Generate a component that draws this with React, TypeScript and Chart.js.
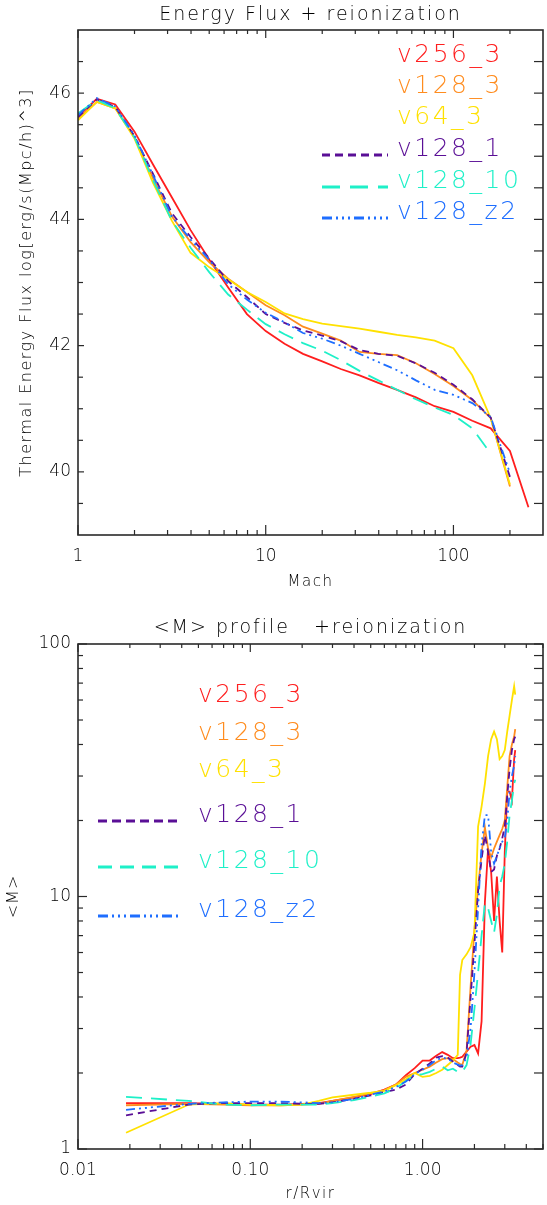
import React, { useEffect, useRef } from "react";
import { Chart, registerables } from "chart.js";

Chart.register(...registerables);

const FONT = "'DejaVu Sans', sans-serif";
const WEIGHT = "300";
const INK = "#000000";
const FRAME = "#2a2a2a";

const seriesNames = ["v256_3", "v128_3", "v64_3", "v128_1", "v128_10", "v128_z2"];
const seriesColors = ["#ff1e1e", "#ff8c1e", "#ffe100", "#5a0f96", "#1ef0c8", "#1e6eff"];
const seriesDashes = [[], [], [], [7, 5], [16, 9], [9, 4, 2, 4, 2, 4, 2, 4]];

// ---------- top chart: Energy flux vs Mach ----------
const machBins = [1, 1.26, 1.58, 2.0, 2.51, 3.16, 3.98, 5.01, 6.31, 7.94, 10, 12.6, 15.8, 20, 25.1, 31.6, 39.8, 50.1, 63.1, 79.4, 100, 126, 158, 200, 251];
const fluxV256_3 = [45.63, 45.91, 45.82, 45.39, 44.87, 44.35, 43.83, 43.36, 42.92, 42.5, 42.23, 42.03, 41.87, 41.75, 41.63, 41.53, 41.41, 41.3, 41.18, 41.04, 40.95, 40.81, 40.69, 40.33, 39.44];
const fluxV128_3 = [45.6, 45.86, 45.76, 45.3, 44.65, 44.05, 43.64, 43.32, 43.06, 42.85, 42.64, 42.48, 42.3, 42.19, 42.08, 41.9, 41.87, 41.85, 41.72, 41.55, 41.36, 41.14, 40.85, 39.77];
const fluxV64_3 = [45.57, 45.86, 45.76, 45.28, 44.58, 43.98, 43.47, 43.24, 43.05, 42.85, 42.69, 42.51, 42.42, 42.35, 42.31, 42.27, 42.22, 42.17, 42.13, 42.08, 41.96, 41.53, 40.85, 39.8];
const fluxV128_1 = [45.62, 45.9, 45.78, 45.32, 44.72, 44.1, 43.72, 43.38, 43.02, 42.77, 42.5, 42.36, 42.24, 42.16, 42.07, 41.93, 41.87, 41.84, 41.72, 41.57, 41.38, 41.15, 40.86, 39.92];
const fluxV128_10 = [45.68, 45.89, 45.76, 45.3, 44.62, 43.98, 43.55, 43.16, 42.81, 42.57, 42.34, 42.18, 42.04, 41.92, 41.77, 41.6, 41.45, 41.3, 41.15, 41.02, 40.9, 40.69, 40.29];
const fluxV128_z2 = [45.65, 45.92, 45.79, 45.33, 44.7, 44.05, 43.68, 43.36, 42.97, 42.73, 42.52, 42.37, 42.2, 42.11, 42.0, 41.87, 41.74, 41.61, 41.45, 41.3, 41.22, 41.09, 40.87, 39.98];
const fluxSeries = [fluxV256_3, fluxV128_3, fluxV64_3, fluxV128_1, fluxV128_10, fluxV128_z2];

const machTickValues = [1, 10, 100];
const machTickLabels = ["1", "10", "100"];
const machMinorTicks = [2, 3, 4, 5, 6, 7, 8, 9, 20, 30, 40, 50, 60, 70, 80, 90, 200];
const fluxTickValues = [40, 42, 44, 46];
const fluxTickLabels = ["40", "42", "44", "46"];
const fluxMinorTicks = [39.5, 40.5, 41, 41.5, 42.5, 43, 43.5, 44.5, 45, 45.5, 46.5];

// ---------- bottom chart: <M> profile ----------
const radiusBins = [0.019, 0.044, 0.07, 0.1, 0.15, 0.2, 0.25, 0.3, 0.4, 0.5, 0.6, 0.7, 0.8, 0.9, 1.0, 1.1, 1.2, 1.3, 1.4, 1.5, 1.6, 1.65, 1.7, 1.8, 1.9, 2.0, 2.1, 2.2, 2.3, 2.4, 2.5, 2.6, 2.7, 2.8, 2.9, 3.0, 3.1, 3.2, 3.3, 3.4, 3.45];
const machV256_3 = [1.52, 1.52, 1.51, 1.5, 1.5, 1.51, 1.52, 1.55, 1.6, 1.65, 1.72, 1.8, 1.96, 2.09, 2.24, 2.24, 2.34, 2.42, 2.36, 2.29, 2.29, 2.3, 2.32, 2.43, 2.54, 2.58, 2.39, 3.2, 9.5, 15.5, 12.5, 8.0, 12.0, 8.0, 6.0, 15.0, 26.0, 26.0, 24.0, 35.0, 38.0];
const machV128_3 = [1.49, 1.51, 1.5, 1.49, 1.49, 1.5, 1.51, 1.55, 1.61, 1.66, 1.71, 1.8, 1.93, 2.0, 2.06, 2.12, 2.2, 2.27, 2.29, 2.27, 2.2, 2.17, 2.15, 2.45, 4.4, 7.4, 10.9, 14.8, 18.8, 15.5, 14.3, 15.5, 16.5, 17.5, 18.5, 20.0, 27.0, 36.0, 40.0, 43.0, 46.0];
const machV64_3 = [1.16, 1.5, 1.52, 1.5, 1.49, 1.5, 1.55, 1.6, 1.64, 1.67, 1.7, 1.79, 1.89, 2.0, 1.93, 1.95, 2.0, 2.06, 2.15, 2.24, 2.36, 4.9, 5.6, 5.9, 6.3, 7.2, 18.9, 22.7, 28.0, 36.0, 42.0, 45.0, 42.0, 35.0, 36.0, 38.0, 45.0, 52.0, 60.0, 68.0, 63.0];
const machV128_1 = [1.36, 1.5, 1.52, 1.52, 1.52, 1.51, 1.51, 1.53, 1.58, 1.63, 1.68, 1.72, 1.8, 1.98, 2.08, 2.18, 2.3, 2.33, 2.3, 2.22, 2.15, 2.12, 2.12, 2.4, 4.0, 6.5, 10.5, 14.0, 17.5, 15.0, 12.5, 12.8, 14.5, 15.5, 17.0, 19.0, 25.0, 32.0, 38.0, 42.0, 43.0];
const machV128_10 = [1.61, 1.55, 1.5, 1.49, 1.5, 1.5, 1.5, 1.52, 1.56, 1.61, 1.66, 1.74, 1.86, 1.96, 1.98, 2.02, 2.08, 2.12, 2.05, 2.08, 2.02, 2.0, 2.02, 2.15, 2.6, 3.6, 5.0, 7.0, 9.4, 9.0, 8.0, 7.2, 8.5, 11.0, 12.0, 13.5, 16.5, 21.0, 24.0, 28.0, 29.0];
const machV128_z2 = [1.43, 1.51, 1.53, 1.54, 1.54, 1.53, 1.52, 1.53, 1.58, 1.64, 1.69, 1.76, 1.85, 1.98, 2.06, 2.15, 2.25, 2.3, 2.28, 2.2, 2.16, 2.14, 2.15, 2.3, 3.0, 5.0, 9.0, 16.0, 21.0, 21.0, 15.0, 13.5, 14.5, 15.5, 16.5, 17.0, 20.0, 26.0, 30.0, 33.0, 36.0];
const profileSeries = [machV256_3, machV128_3, machV64_3, machV128_1, machV128_10, machV128_z2];

const radiusTickValues = [0.01, 0.1, 1];
const radiusTickLabels = ["0.01", "0.10", "1.00"];
const radiusMinorTicks = [0.02, 0.03, 0.04, 0.05, 0.06, 0.07, 0.08, 0.09, 0.2, 0.3, 0.4, 0.5, 0.6, 0.7, 0.8, 0.9, 2, 3, 4, 5];
const profileTickValues = [1, 10, 100];
const profileTickLabels = ["1", "10", "100"];
const profileMinorTicks = [2, 3, 4, 5, 6, 7, 8, 9, 20, 30, 40, 50, 60, 70, 80, 90];

function labelFor(values: number[], labels: string[], v: number) {
  for (let i = 0; i < values.length; i++) {
    if (Math.abs(values[i] - v) < 1e-9 * Math.max(1, Math.abs(v))) return labels[i];
  }
  return "";
}

function makeDecor(cfg: any) {
  return {
    id: "decor",
    afterDatasetsDraw(chart: any) {
      const ctx = chart.ctx;
      const a = chart.chartArea;
      const xs = chart.scales.x;
      const ys = chart.scales.y;
      ctx.save();
      ctx.setLineDash([]);
      ctx.strokeStyle = FRAME;
      ctx.lineWidth = 1.2;
      const line = (x1: number, y1: number, x2: number, y2: number) => {
        ctx.beginPath();
        ctx.moveTo(x1, y1);
        ctx.lineTo(x2, y2);
        ctx.stroke();
      };
      cfg.xMajor.forEach((v: number) => {
        const p = xs.getPixelForValue(v);
        line(p, a.bottom, p, a.bottom - 10);
        line(p, a.top, p, a.top + 8);
      });
      cfg.xMinor.forEach((v: number) => {
        const p = xs.getPixelForValue(v);
        line(p, a.bottom, p, a.bottom - 5);
        line(p, a.top, p, a.top + 4);
      });
      cfg.yMajor.forEach((v: number) => {
        const p = ys.getPixelForValue(v);
        line(a.left, p, a.left + cfg.yLeftMajor, p);
        line(a.right, p, a.right - 9, p);
      });
      cfg.yMinor.forEach((v: number) => {
        const p = ys.getPixelForValue(v);
        line(a.left, p, a.left + cfg.yLeftMinor, p);
        line(a.right, p, a.right - 9, p);
      });
      ctx.lineWidth = 1.6;
      ctx.strokeRect(a.left, a.top, a.right - a.left, a.bottom - a.top);

      const cx = (a.left + a.right) / 2;
      ctx.fillStyle = INK;
      ctx.textAlign = "center";
      ctx.textBaseline = "alphabetic";
      ctx.font = `${WEIGHT} 19px ${FONT}`;
      (ctx as any).letterSpacing = "2px";
      ctx.fillText(cfg.title, cx, cfg.titleY);
      ctx.font = `${WEIGHT} 15px ${FONT}`;
      (ctx as any).letterSpacing = "1.5px";
      ctx.fillText(cfg.xTitle, cx, cfg.xTitleY);
      ctx.save();
      ctx.translate(cfg.yTitleX, (a.top + a.bottom) / 2);
      ctx.rotate(-Math.PI / 2);
      ctx.textBaseline = "middle";
      ctx.font = `${WEIGHT} ${cfg.yTitleSize}px ${FONT}`;
      (ctx as any).letterSpacing = cfg.yTitleSpacing;
      ctx.fillText(cfg.yTitle, 0, 0);
      ctx.restore();

      // legend
      ctx.textAlign = "left";
      ctx.textBaseline = "alphabetic";
      ctx.font = `${WEIGHT} 25px ${FONT}`;
      (ctx as any).letterSpacing = "2.5px";
      seriesNames.forEach((name, i) => {
        const y = cfg.legendBaselines[i];
        ctx.fillStyle = seriesColors[i];
        ctx.fillText(name, cfg.legendTextX, y);
        if (seriesDashes[i].length) {
          ctx.strokeStyle = seriesColors[i];
          ctx.lineWidth = 3;
          ctx.setLineDash(cfg.legendDashes[i]);
          line(cfg.legendLineX1, y - 1, cfg.legendLineX2, y - 1);
          ctx.setLineDash([]);
        }
      });
      ctx.restore();
    },
  };
}

function axisCommon(extra: any) {
  return {
    grid: { display: false, drawTicks: false },
    border: { display: false },
    ...extra,
  };
}

function buildConfig(opts: any): any {
  const datasets = opts.series.map((vals: number[], i: number) => ({
    label: seriesNames[i],
    data: vals.map((v, j) => ({ x: opts.xBins[j], y: v })),
    borderColor: seriesColors[i],
    backgroundColor: seriesColors[i],
    borderWidth: 1.8,
    borderDash: seriesDashes[i],
    pointRadius: 0,
    tension: 0,
    fill: false,
    order: -i,
  }));
  return {
    type: "line",
    data: { datasets },
    options: {
      animation: false,
      responsive: false,
      devicePixelRatio: 1,
      layout: { padding: opts.padding },
      plugins: { legend: { display: false }, tooltip: { enabled: false }, title: { display: false } },
      scales: {
        x: axisCommon({
          type: "logarithmic",
          min: opts.xMin,
          max: opts.xMax,
          ticks: {
            autoSkip: false,
            maxRotation: 0,
            minRotation: 0,
            padding: 11,
            color: INK,
            font: { family: FONT, size: 17, weight: WEIGHT },
            callback: (v: number) => labelFor(opts.xTicks, opts.xLabels, Number(v)),
          },
          afterBuildTicks: (s: any) => {
            s.ticks = opts.xTicks.map((v: number) => ({ value: v }));
          },
          afterFit: (s: any) => {
            s.height = opts.xAxisHeight;
          },
        }),
        y: axisCommon({
          type: opts.yType,
          min: opts.yMin,
          max: opts.yMax,
          ticks: {
            autoSkip: false,
            padding: 7,
            color: INK,
            font: { family: FONT, size: 17, weight: WEIGHT },
            callback: (v: number) => labelFor(opts.yTicks, opts.yLabels, Number(v)),
          },
          afterBuildTicks: (s: any) => {
            s.ticks = opts.yTicks.map((v: number) => ({ value: v }));
          },
          afterFit: (s: any) => {
            s.width = 78;
          },
        }),
      },
    },
    plugins: [makeDecor(opts.decor)],
  };
}

export default function App() {
  const topRef = useRef<HTMLCanvasElement>(null);
  const botRef = useRef<HTMLCanvasElement>(null);

  useEffect(() => {
    const top = new Chart(
      topRef.current as HTMLCanvasElement,
      buildConfig({
        series: fluxSeries,
        xBins: machBins,
        xMin: 1,
        xMax: 300,
        xTicks: machTickValues,
        xLabels: machTickLabels,
        yType: "linear",
        yMin: 39,
        yMax: 47,
        yTicks: fluxTickValues,
        yLabels: fluxTickLabels,
        padding: { top: 30, right: 4, bottom: 5, left: 0 },
        xAxisHeight: 60,
        decor: {
          title: "Energy Flux + reionization",
          titleY: 20,
          xTitle: "Mach",
          xTitleY: 586,
          yTitle: "Thermal Energy Flux log[erg/s(Mpc/h)^3]",
          yTitleX: 27,
          yTitleSize: 16,
          yTitleSpacing: "1.5px",
          xMajor: machTickValues,
          xMinor: machMinorTicks,
          yMajor: fluxTickValues,
          yMinor: fluxMinorTicks,
          yLeftMajor: 6,
          yLeftMinor: 5,
          legendTextX: 397,
          legendBaselines: [62, 93, 124, 156, 188, 219],
          legendLineX1: 322,
          legendLineX2: 388,
          legendDashes: [[], [], [], [8, 5], [18, 10], [10, 4, 2, 4, 2, 4, 2, 4]],
        },
      })
    );
    const bottom = new Chart(
      botRef.current as HTMLCanvasElement,
      buildConfig({
        series: profileSeries,
        xBins: radiusBins,
        xMin: 0.01,
        xMax: 5,
        xTicks: radiusTickValues,
        xLabels: radiusTickLabels,
        yType: "logarithmic",
        yMin: 1,
        yMax: 100,
        yTicks: profileTickValues,
        yLabels: profileTickLabels,
        padding: { top: 44, right: 4, bottom: 6, left: 0 },
        xAxisHeight: 50,
        decor: {
          title: "<M> profile   +reionization",
          titleY: 33,
          xTitle: "r/Rvir",
          xTitleY: 598,
          yTitle: "<M>",
          yTitleX: 14,
          yTitleSize: 16,
          yTitleSpacing: "1px",
          xMajor: radiusTickValues,
          xMinor: radiusMinorTicks,
          yMajor: profileTickValues,
          yMinor: profileMinorTicks,
          yLeftMajor: 9,
          yLeftMinor: 5,
          legendTextX: 198,
          legendBaselines: [102, 140, 177, 222, 268, 317],
          legendLineX1: 98,
          legendLineX2: 181,
          legendDashes: [[], [], [], [9, 5], [14, 8], [10, 4, 2, 4, 2, 4, 2, 4]],
        },
      })
    );
    return () => {
      top.destroy();
      bottom.destroy();
    };
  }, []);

  return (
    <div style={{ position: "absolute", left: 0, top: 0, width: 547, height: 1205, background: "#ffffff" }}>
      <canvas ref={topRef} width={547} height={600} style={{ display: "block", width: 547, height: 600 }} />
      <canvas ref={botRef} width={547} height={605} style={{ display: "block", width: 547, height: 605 }} />
    </div>
  );
}
